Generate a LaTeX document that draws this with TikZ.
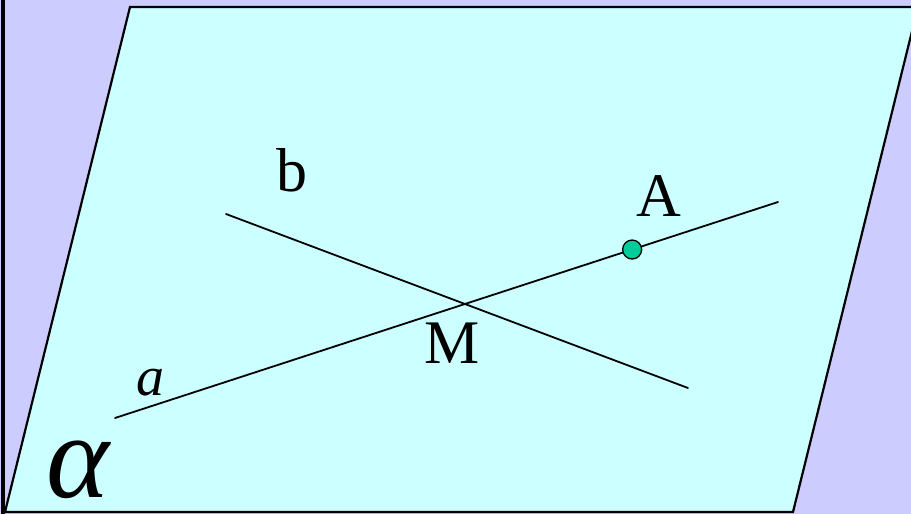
\documentclass[tikz,border=0pt]{standalone}
\usepackage{fontspec}
\setmainfont{Liberation Serif}
\usetikzlibrary{calc}
\definecolor{lavender}{RGB}{204,204,255}
\definecolor{planecyan}{RGB}{204,255,255}
\definecolor{pointgreen}{RGB}{0,204,153}
\tikzset{
  labeltext/.style={inner sep=0pt, font=\fontsize{62}{70}\selectfont},
  lineab/.style={line width=1.8pt},
}
\begin{document}
\begin{tikzpicture}[x=1pt, y=-1pt, line join=round, line cap=round]
  % Background and frame
  \useasboundingbox (0,0) rectangle (911,514);
  \fill[lavender] (0,0) rectangle (911,514);
  \draw[line width=3.5pt, line cap=butt] (3,0) -- (3,514);

  % Corners of the plane
  \coordinate (P1) at (5,512);
  \coordinate (P2) at (793,512);
  \coordinate (P3) at (918,7);
  \coordinate (P4) at (130,7);
  \filldraw[fill=planecyan, line width=2.2pt, line join=miter] (P1) -- (P2) -- (P3) -- (P4) -- cycle;

  % Lines a and b
  \coordinate (a1) at (115,418);
  \coordinate (a2) at (778,202);
  \coordinate (b1) at (226,214);
  \coordinate (b2) at (688,388);
  \draw[lineab] (a1) -- (a2);
  \draw[lineab] (b1) -- (b2);

  % Point A on line a
  \node[circle, draw, fill=pointgreen, line width=1.3pt, minimum size=19pt, inner sep=0pt] (A) at ($(a1)!0.78!(a2)$) {};

  % Labels
  \node[labeltext] (lblb) at (292,170) {b};
  \node[labeltext] (lblA) at (659,196) {A};
  \node[labeltext] (lblM) at (452,343) {M};
  \node[labeltext, font=\itshape\fontsize{56}{64}\selectfont] (lbla) at (150,383) {a};
  \node[labeltext, font=\itshape\fontsize{120}{128}\selectfont] (alpha) at (78,470) {α};
\end{tikzpicture}
\end{document}
